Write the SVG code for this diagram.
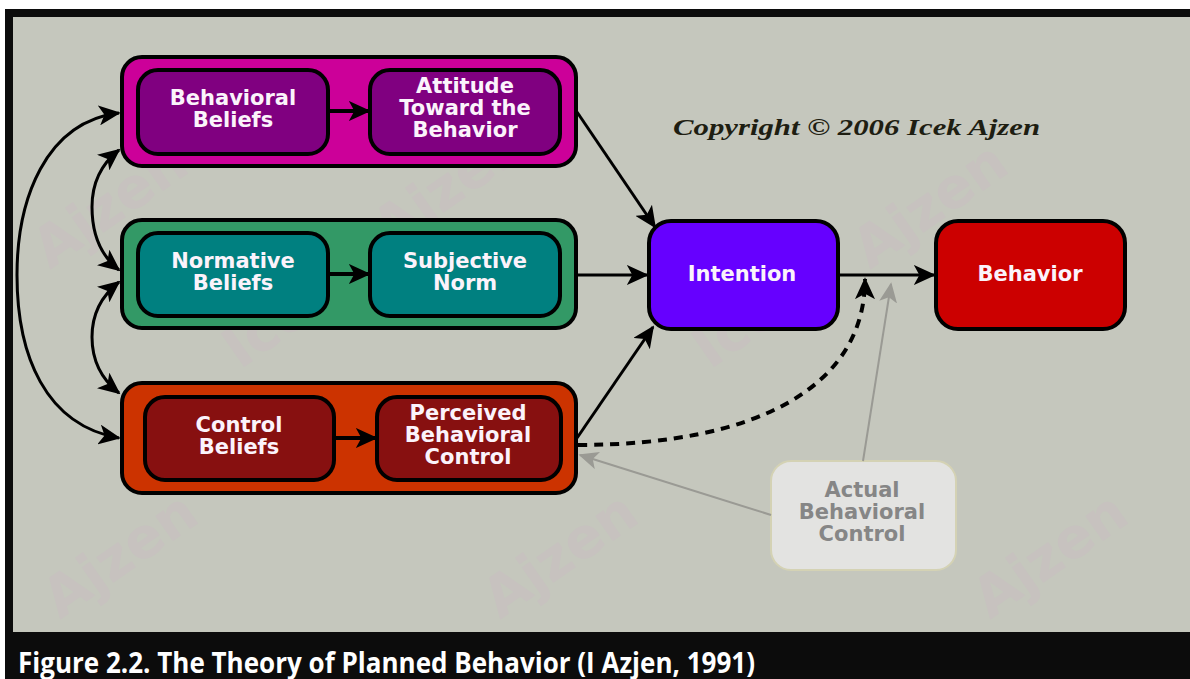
<svg xmlns="http://www.w3.org/2000/svg" width="1190" height="679" viewBox="0 0 1190 679">
  <style>
    .outer { stroke: #000; stroke-width: 4; }
    .inner { stroke: #000; stroke-width: 4; }
    .lbl { font-family: "DejaVu Sans", "Liberation Sans", sans-serif; font-weight: bold; font-size: 21px; fill: #fbf3fb; text-anchor: middle; }
    .dim { fill: #868686; }
    .conn { fill: none; stroke: #000; stroke-width: 3; }
    .thick { stroke-width: 4; }
    .gray { fill: none; stroke: #9a9a94; stroke-width: 2; }
    .wm { font-family: "DejaVu Sans", sans-serif; font-weight: bold; font-size: 56px; fill: #d6a2d2; opacity: 0.13; }
  </style>
  <defs>
    <marker id="ah" viewBox="0 0 12 12" refX="11" refY="6" markerWidth="22" markerHeight="20" markerUnits="userSpaceOnUse" orient="auto-start-reverse" preserveAspectRatio="none">
      <path d="M0,0 L12,6 L0,12 L3,6 z" fill="#000"/>
    </marker>
    <marker id="ahg" viewBox="0 0 12 12" refX="11" refY="6" markerWidth="20" markerHeight="18" markerUnits="userSpaceOnUse" orient="auto" preserveAspectRatio="none">
      <path d="M0,0 L12,6 L0,12 L3,6 z" fill="#9a9a94"/>
    </marker>
  </defs>

  <!-- frame and background -->
  <rect x="0" y="0" width="1190" height="679" fill="#ffffff"/>
  <rect x="5" y="9" width="1185" height="670" fill="#0c0c0c"/>
  <rect x="13" y="17" width="1177" height="615" fill="#c5c7bd"/>

  <!-- faint watermark -->
  <g id="watermark">
    <text class="wm" transform="translate(50,270) rotate(-35)">Ajzen</text>
    <text class="wm" transform="translate(390,250) rotate(-35)">Ajzen</text>
    <text class="wm" transform="translate(240,370) rotate(-35)">Icek</text>
    <text class="wm" transform="translate(710,370) rotate(-35)">Icek</text>
    <text class="wm" transform="translate(870,270) rotate(-35)">Ajzen</text>
    <text class="wm" transform="translate(60,620) rotate(-35)">Ajzen</text>
    <text class="wm" transform="translate(500,620) rotate(-35)">Ajzen</text>
    <text class="wm" transform="translate(990,620) rotate(-35)">Ajzen</text>
  </g>

  <text x="673" y="135" font-family="Liberation Serif, serif" font-style="italic" font-weight="bold" font-size="24" fill="#1e1e12" textLength="367" lengthAdjust="spacingAndGlyphs">Copyright © 2006 Icek Ajzen</text>

  <!-- attitude group -->
  <g id="attitude-group">
    <rect class="outer" x="122" y="57" width="454" height="109" rx="20" fill="#cc0099"/>
    <g id="behavioral-beliefs">
      <rect class="inner" x="138" y="70" width="190" height="84" rx="20" fill="#800080"/>
      <text class="lbl" x="233" y="105">Behavioral</text>
      <text class="lbl" x="233" y="127">Beliefs</text>
    </g>
    <g id="attitude">
      <rect class="inner" x="370" y="70" width="190" height="84" rx="20" fill="#800080"/>
      <text class="lbl" x="465" y="93">Attitude</text>
      <text class="lbl" x="465" y="115">Toward the</text>
      <text class="lbl" x="465" y="137">Behavior</text>
    </g>
  </g>

  <!-- norm group -->
  <g id="norm-group">
    <rect class="outer" x="122" y="220" width="454" height="108" rx="20" fill="#339966"/>
    <g id="normative-beliefs">
      <rect class="inner" x="138" y="233" width="190" height="83" rx="20" fill="#008080"/>
      <text class="lbl" x="233" y="268">Normative</text>
      <text class="lbl" x="233" y="290">Beliefs</text>
    </g>
    <g id="subjective-norm">
      <rect class="inner" x="370" y="233" width="190" height="83" rx="20" fill="#008080"/>
      <text class="lbl" x="465" y="268">Subjective</text>
      <text class="lbl" x="465" y="290">Norm</text>
    </g>
  </g>

  <!-- control group -->
  <g id="control-group">
    <rect class="outer" x="122" y="383" width="454" height="110" rx="20" fill="#cc3300"/>
    <g id="control-beliefs">
      <rect class="inner" x="145" y="397" width="189" height="83" rx="20" fill="#871010"/>
      <text class="lbl" x="239" y="432">Control</text>
      <text class="lbl" x="239" y="454">Beliefs</text>
    </g>
    <g id="perceived-control">
      <rect class="inner" x="377" y="397" width="184" height="83" rx="20" fill="#871010"/>
      <text class="lbl" x="468" y="420">Perceived</text>
      <text class="lbl" x="468" y="442">Behavioral</text>
      <text class="lbl" x="468" y="464">Control</text>
    </g>
  </g>

  <g id="intention">
    <rect class="outer" x="649" y="221" width="189" height="108" rx="22" fill="#6600ff"/>
    <text class="lbl" x="742" y="281">Intention</text>
  </g>

  <g id="behavior">
    <rect class="outer" x="936" y="221" width="189" height="108" rx="22" fill="#cc0000"/>
    <text class="lbl" x="1030" y="281">Behavior</text>
  </g>

  <g id="actual-control">
    <rect x="771" y="461" width="185" height="109" rx="20" fill="#e3e3e1" stroke="#d4d2b4" stroke-width="2"/>
    <text class="lbl dim" x="862" y="497">Actual</text>
    <text class="lbl dim" x="862" y="519">Behavioral</text>
    <text class="lbl dim" x="862" y="541">Control</text>
  </g>

  <!-- connectors -->
  <g id="connectors">
    <!-- correlations between belief groups -->
    <path class="conn" d="M119,113 C45,122 17,200 17,275 C17,355 45,425 119,438" marker-start="url(#ah)" marker-end="url(#ah)"/>
    <path class="conn" d="M119,150 C100,165 92,185 92,207 C92,232 100,255 119,270" marker-start="url(#ah)" marker-end="url(#ah)"/>
    <path class="conn" d="M119,282 C100,297 92,315 92,337 C92,360 100,378 119,393" marker-start="url(#ah)" marker-end="url(#ah)"/>
    <!-- arrows inside each group -->
    <line class="conn thick" x1="330" y1="111" x2="369" y2="111" marker-end="url(#ah)"/>
    <line class="conn thick" x1="330" y1="274" x2="369" y2="274" marker-end="url(#ah)"/>
    <line class="conn thick" x1="336" y1="438" x2="376" y2="438" marker-end="url(#ah)"/>
    <!-- to intention -->
    <line class="conn" x1="577" y1="112" x2="655" y2="227" marker-end="url(#ah)"/>
    <line class="conn" x1="578" y1="275" x2="647" y2="275" marker-end="url(#ah)"/>
    <line class="conn" x1="577" y1="438" x2="653" y2="327" marker-end="url(#ah)"/>
    <!-- intention to behavior -->
    <line class="conn" x1="840" y1="275" x2="934" y2="275" marker-end="url(#ah)"/>
    <!-- perceived control to behavior (dashed) -->
    <path class="conn thick" d="M578,445 C760,445 865,385 865,279" stroke-dasharray="9 7" marker-end="url(#ah)"/>
    <!-- actual behavioral control links -->
    <line class="gray" x1="863" y1="461" x2="891" y2="284" marker-end="url(#ahg)"/>
    <line class="gray" x1="771" y1="515" x2="580" y2="455" marker-end="url(#ahg)"/>
  </g>

  <!-- caption -->
  <text x="18" y="673" font-family="Open Sans, Liberation Sans, sans-serif" font-weight="bold" font-size="28" fill="#ffffff" textLength="737" lengthAdjust="spacingAndGlyphs">Figure 2.2. The Theory of Planned Behavior (I Azjen, 1991)</text>
</svg>
